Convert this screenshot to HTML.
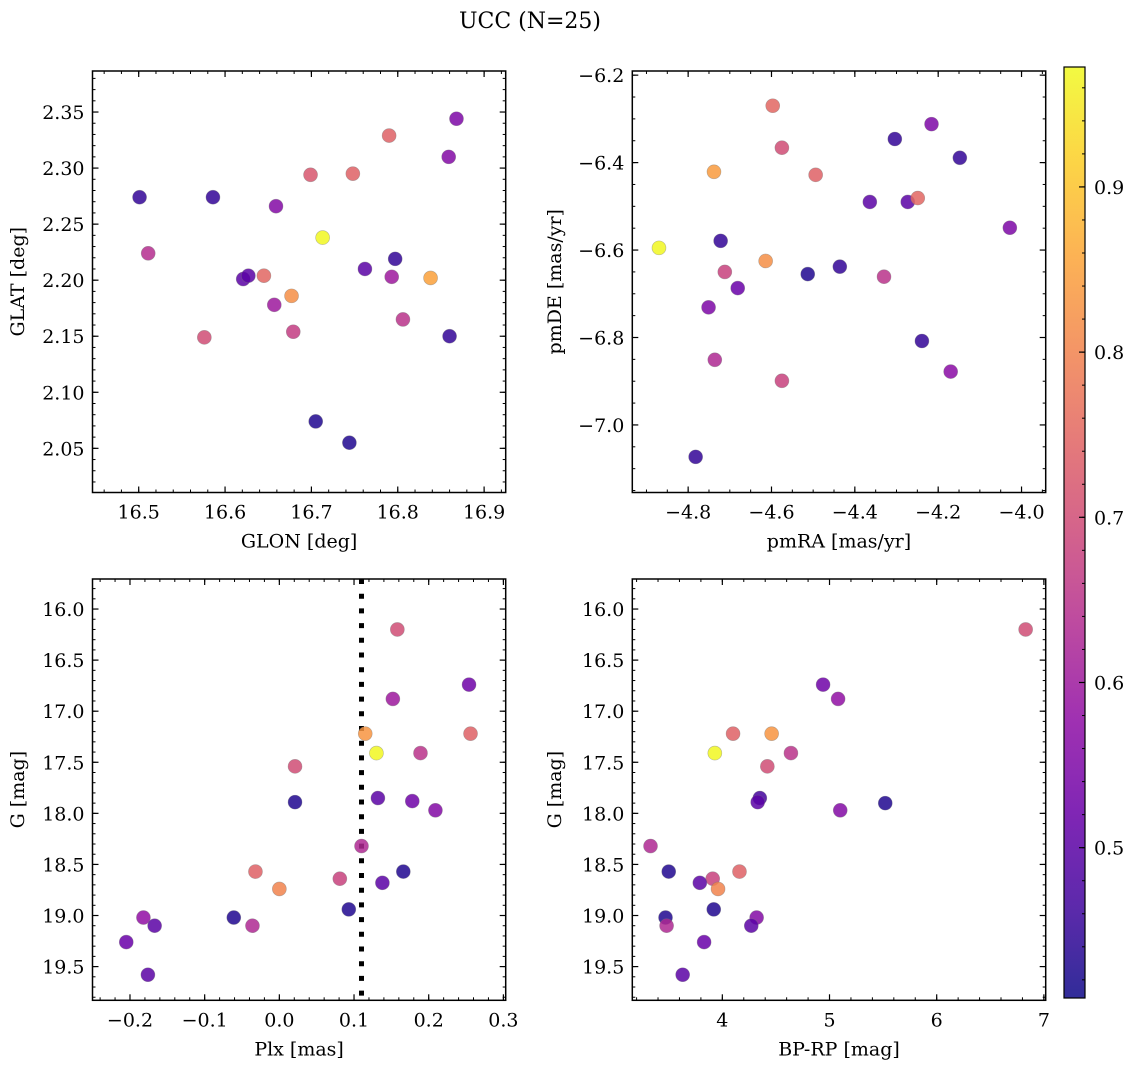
<!DOCTYPE html>
<html><head><meta charset="utf-8"><style>
html,body{margin:0;padding:0;background:#fff;}
svg{display:block;font-family:"DejaVu Serif","Liberation Serif",serif;}
</style></head><body>
<svg id="fig" width="1136" height="1067" viewBox="0 0 1136 1067" xmlns="http://www.w3.org/2000/svg">
<text x="530" y="28" font-size="22" text-anchor="middle">UCC (N=25)</text>
</svg>
<script>
// ---- data ----
const glon=[16.501,16.586,16.511,16.576,16.621,16.627,16.645,16.659,16.657,16.677,16.679,16.699,16.713,16.705,16.744,16.748,16.762,16.790,16.797,16.793,16.806,16.838,16.859,16.868,16.860];
const glat=[2.274,2.274,2.224,2.149,2.201,2.204,2.204,2.266,2.178,2.186,2.154,2.294,2.238,2.074,2.055,2.295,2.210,2.329,2.219,2.203,2.165,2.202,2.310,2.344,2.150];
const prob1=[0.45,0.45,0.64,0.70,0.50,0.50,0.75,0.56,0.60,0.82,0.67,0.72,0.97,0.43,0.43,0.74,0.50,0.74,0.45,0.60,0.65,0.85,0.56,0.55,0.45];

const pmra=[-4.870,-4.738,-4.722,-4.712,-4.681,-4.751,-4.736,-4.782,-4.575,-4.597,-4.614,-4.513,-4.575,-4.494,-4.436,-4.364,-4.330,-4.304,-4.273,-4.216,-4.249,-4.239,-4.148,-4.170,-4.028];
const pmde=[-6.595,-6.421,-6.579,-6.650,-6.687,-6.731,-6.851,-7.073,-6.366,-6.270,-6.625,-6.655,-6.899,-6.428,-6.638,-6.490,-6.661,-6.346,-6.490,-6.312,-6.481,-6.808,-6.389,-6.878,-6.549];
const prob2=[0.97,0.84,0.45,0.68,0.52,0.55,0.63,0.45,0.70,0.75,0.82,0.43,0.68,0.74,0.45,0.50,0.65,0.45,0.50,0.55,0.75,0.45,0.45,0.57,0.55];

const plx=[0.158,0.254,0.152,0.115,0.256,0.130,0.189,0.021,0.132,0.178,0.209,0.021,0.110,-0.032,0.166,0.081,0.138,0.000,0.093,-0.061,-0.182,-0.167,-0.036,-0.205,-0.176];
const gmag3=[16.20,16.74,16.88,17.22,17.22,17.41,17.41,17.54,17.85,17.88,17.97,17.89,18.32,18.57,18.57,18.64,18.68,18.74,18.94,19.02,19.02,19.10,19.10,19.26,19.58];
const prob3=[0.70,0.53,0.60,0.83,0.74,0.97,0.65,0.70,0.50,0.53,0.56,0.43,0.63,0.74,0.43,0.68,0.50,0.80,0.43,0.43,0.58,0.50,0.63,0.52,0.50];
const plxRef=[0.110];

const bprp=[6.83,4.94,5.08,4.10,4.46,3.93,4.64,4.42,4.35,4.33,5.10,5.52,3.33,3.50,4.16,3.91,3.79,3.96,3.92,3.47,3.48,4.32,4.27,3.83,3.63];
const gmag4=[16.20,16.74,16.88,17.22,17.22,17.41,17.41,17.54,17.85,17.89,17.97,17.90,18.32,18.57,18.57,18.64,18.68,18.74,18.94,19.02,19.10,19.02,19.10,19.26,19.58];
const prob4=[0.70,0.53,0.58,0.74,0.83,0.97,0.65,0.70,0.47,0.50,0.56,0.43,0.63,0.43,0.74,0.68,0.50,0.80,0.43,0.43,0.63,0.56,0.50,0.52,0.50];

const cbTicks=[0.5,0.6,0.7,0.8,0.9];
const vmin=0.409, vmax=0.9726;

// ---- helpers ----
const NS="http://www.w3.org/2000/svg";
const svg=document.getElementById('fig');
function mk(tag,attrs,parent){const e=document.createElementNS(NS,tag);for(const k in attrs)e.setAttribute(k,attrs[k]);(parent||svg).appendChild(e);return e;}
const plasma=[[13,8,135],[65,4,157],[106,0,168],[143,13,164],[177,42,144],[204,71,120],[225,100,98],[242,132,75],[252,166,54],[252,206,37],[240,249,33]];
function cmap(v){let t=(v-vmin)/(vmax-vmin);t=Math.max(0,Math.min(1,t));const f=t*10,i=Math.min(9,Math.floor(f)),u=f-i;const a=plasma[i],b=plasma[i+1];
 return 'rgb('+a.map((c,k)=>Math.round(c+(b[k]-c)*u)).join(',')+')';}
function fmt(v,d){const s=Math.abs(v).toFixed(d);return (v<-1e-9?'\u2212':'')+s;}
const FS=19;

function panel(c){
 const sx=v=>c.l+(v-c.x0)/(c.x1-c.x0)*(c.r-c.l);
 const sy=v=>c.t+(v-c.y0)/(c.y1-c.y0)*(c.b-c.t);
 const g=mk('g',{});
 
 
 const lo=Math.min(c.x0,c.x1),hi=Math.max(c.x0,c.x1);
 for(let v=Math.ceil(lo/c.xm-1e-6)*c.xm;v<=hi+1e-9;v+=c.xm){const x=sx(v);
  mk('line',{x1:x,x2:x,y1:c.b,y2:c.b-3,stroke:'#000','stroke-width':1},g);
  mk('line',{x1:x,x2:x,y1:c.t,y2:c.t+3,stroke:'#000','stroke-width':1},g);}
 c.xt.forEach(v=>{const x=sx(v);
  mk('line',{x1:x,x2:x,y1:c.b,y2:c.b-6,stroke:'#000','stroke-width':1.2},g);
  mk('line',{x1:x,x2:x,y1:c.t,y2:c.t+6,stroke:'#000','stroke-width':1.2},g);
  const t=mk('text',{x:x,y:c.b+26,'font-size':FS,'text-anchor':'middle'},g);t.textContent=fmt(v,c.xd);
  
  });
 const ylo=Math.min(c.y0,c.y1),yhi=Math.max(c.y0,c.y1);
 for(let v=Math.ceil(ylo/c.ym-1e-6)*c.ym;v<=yhi+1e-9;v+=c.ym){const y=sy(v);
  mk('line',{x1:c.l,x2:c.l+3,y1:y,y2:y,stroke:'#000','stroke-width':1},g);
  mk('line',{x1:c.r,x2:c.r-3,y1:y,y2:y,stroke:'#000','stroke-width':1},g);}
 c.yt.forEach(v=>{const y=sy(v);
  mk('line',{x1:c.l,x2:c.l+6,y1:y,y2:y,stroke:'#000','stroke-width':1.2},g);
  mk('line',{x1:c.r,x2:c.r-6,y1:y,y2:y,stroke:'#000','stroke-width':1.2},g);
  const t=mk('text',{x:c.l-8,y:y+7,'font-size':FS,'text-anchor':'end'},g);t.textContent=fmt(v,c.yd);
  
  });
 if(c.vline){c.vline.forEach(v=>{const x=sx(v);
  const ln=mk('line',{x1:x,x2:x,y1:c.t,y2:c.b,stroke:'#000','stroke-width':5,'stroke-dasharray':'5 9.7'},g);
  
  });}
 c.xs.forEach((xv,i)=>{const p=mk('circle',{cx:sx(xv),cy:sy(c.ys[i]),r:7,fill:cmap(c.cs[i]),'fill-opacity':0.85,stroke:'#777','stroke-opacity':0.5,'stroke-width':0.6},g);
  
  });
 const box=mk('rect',{x:c.l,y:c.t,width:c.r-c.l,height:c.b-c.t,fill:'none',stroke:'#000','stroke-width':1.5},g);
 
 
 const xl=mk('text',{x:(c.l+c.r)/2,y:c.b+55,'font-size':FS,'text-anchor':'middle'},g);xl.textContent=c.xlab;
 
 
 const yc=(c.t+c.b)/2;
 const yl=mk('text',{x:c.ylx,y:yc,'font-size':FS,'text-anchor':'middle',transform:'rotate(-90 '+c.ylx+' '+yc+')'},g);yl.textContent=c.ylab;
 
 
}

panel({name:'glon-glat-panel',l:92.5,r:505.7,t:71,b:492.5,x0:16.4465,x1:16.925,y0:2.3866,y1:2.0106,
 xt:[16.5,16.6,16.7,16.8,16.9],xm:0.02,xd:1,yt:[2.05,2.10,2.15,2.20,2.25,2.30,2.35],ym:0.01,yd:2,
 xs:glon,ys:glat,cs:prob1,xlab:'GLON [deg]',ylab:'GLAT [deg]',ylx:24});
panel({name:'pm-panel',l:632.3,r:1045.7,t:71,b:492.5,x0:-4.934,x1:-3.942,y0:-6.1905,y1:-7.1545,
 xt:[-4.8,-4.6,-4.4,-4.2,-4.0],xm:0.05,xd:1,yt:[-7.0,-6.8,-6.6,-6.4,-6.2],ym:0.05,yd:1,
 xs:pmra,ys:pmde,cs:prob2,xlab:'pmRA [mas/yr]',ylab:'pmDE [mas/yr]',ylx:561});
panel({name:'plx-g-panel',l:92.5,r:505.7,t:579,b:1000.3,x0:-0.2502,x1:0.3031,y0:15.706,y1:19.83,
 xt:[-0.2,-0.1,0.0,0.1,0.2,0.3],xm:0.02,xd:1,yt:[16,16.5,17,17.5,18,18.5,19,19.5],ym:0.1,yd:1,
 xs:plx,ys:gmag3,cs:prob3,vline:plxRef,xlab:'Plx [mas]',ylab:'G [mag]',ylx:24});
panel({name:'cmd-panel',l:632.3,r:1045.7,t:579,b:1000.3,x0:3.16,x1:7.017,y0:15.706,y1:19.83,
 xt:[4,5,6,7],xm:0.2,xd:0,yt:[16,16.5,17,17.5,18,18.5,19,19.5],ym:0.1,yd:1,
 xs:bprp,ys:gmag4,cs:prob4,xlab:'BP-RP [mag]',ylab:'G [mag]',ylx:561});

// ---- colorbar ----
(function(){
 const L=1064,R=1085,T=67,B=998;
 const sy=v=>B-(v-vmin)/(vmax-vmin)*(B-T);
 const defs=mk('defs',{});
 const gr=mk('linearGradient',{id:'cbg',x1:0,y1:1,x2:0,y2:0},defs);
 for(let i=0;i<=20;i++){const v=vmin+(vmax-vmin)*i/20;mk('stop',{offset:(i/20),'stop-color':cmap(v)},gr);}
 const g=mk('g',{});
 
 
 mk('rect',{x:L,y:T,width:R-L,height:B-T,fill:'url(#cbg)','fill-opacity':0.85},g);
 for(let v=0.42;v<vmax;v+=0.02){const y=sy(v);mk('line',{x1:R,x2:R-3,y1:y,y2:y,stroke:'#000','stroke-width':1},g);}
 cbTicks.forEach(v=>{const y=sy(v);mk('line',{x1:R,x2:R-6,y1:y,y2:y,stroke:'#000','stroke-width':1.2},g);
  const t=mk('text',{x:R+9,y:y+7,'font-size':FS},g);t.textContent=v.toFixed(1);
  
  });
 mk('rect',{x:L,y:T,width:R-L,height:B-T,fill:'none',stroke:'#000','stroke-width':1.2},g);
})();
</script>
</body></html>
